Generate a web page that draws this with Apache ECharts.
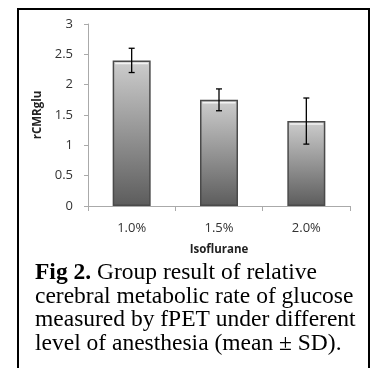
<!DOCTYPE html>
<html>
<head>
<meta charset="utf-8">
<script src="https://cdn.jsdelivr.net/npm/echarts@6/dist/echarts.min.js"></script>
<style>
html,body{margin:0;padding:0;background:#fff;}
#c{width:379px;height:368px;}
</style>
</head>
<body>
<div id="c"></div>
<script>
var categories = ['1.0%', '1.5%', '2.0%'];
var means = [2.4, 1.75, 1.4];
var sds = [0.2, 0.18, 0.38];
var yTicks = [0, 0.5, 1, 1.5, 2, 2.5, 3];
var xName = 'Isoflurane';
var yName = 'rCMRglu';
var captionBold = 'Fig 2.';
var captionLines = [
  ' Group result of relative',
  'cerebral metabolic rate of glucose',
  'measured by fPET under different',
  'level of anesthesia (mean \u00b1 SD).'
];

var chart = echarts.init(document.getElementById('c'), null, {renderer: 'canvas'});
var BAR_W = 38;
var errData = means.map(function (m, i) { return [i, m - sds[i], m + sds[i], m]; });
var capText = '{b|' + captionBold + '}{r|' + captionLines[0] + '}\n' +
  captionLines.slice(1).map(function (l) { return '{r|' + l + '}'; }).join('\n');

chart.setOption({
  animation: false,
  backgroundColor: '#fff',
  grid: {left: 88, right: 29, top: 24, bottom: 162},
  xAxis: {
    type: 'category',
    data: categories,
    name: xName,
    nameLocation: 'middle',
    nameGap: 38,
    nameTextStyle: {fontFamily: 'Open Sans', fontWeight: 'bold', fontSize: 11.5, color: '#222'},
    axisLine: {lineStyle: {color: '#aaa', width: 1}},
    axisTick: {show: true, length: 5, lineStyle: {color: '#aaa'}},
    axisLabel: {margin: 16, fontFamily: 'Open Sans', fontSize: 13, color: '#333'}
  },
  yAxis: {
    type: 'value',
    min: 0, max: 3, interval: 0.5,
    name: yName,
    nameLocation: 'middle',
    nameGap: 36,
    nameTextStyle: {fontFamily: 'Open Sans', fontWeight: 'bold', fontSize: 11.5, color: '#222'},
    axisLine: {show: true, lineStyle: {color: '#aaa', width: 1}},
    axisTick: {show: true, length: 4, lineStyle: {color: '#aaa'}},
    splitLine: {show: false},
    axisLabel: {margin: 15, fontFamily: 'Open Sans', fontSize: 13, color: '#333',
      formatter: function (v) { return yTicks.indexOf(v) >= 0 ? String(v) : ''; }}
  },
  series: [
    {
      type: 'bar',
      data: means,
      barWidth: BAR_W,
      itemStyle: {
        color: new echarts.graphic.LinearGradient(0, 0, 0, 1, [
          {offset: 0, color: '#cdcdcd'},
          {offset: 1, color: '#5c5c5c'}
        ]),
        borderColor: '#4a4a4a',
        borderWidth: 1.5
      }
    },
    {
      type: 'custom',
      data: errData,
      z: 10,
      renderItem: function (params, api) {
        var x = api.value(0);
        var lo = api.coord([x, api.value(1)]);
        var hi = api.coord([x, api.value(2)]);
        var top = api.coord([x, api.value(3)]);
        var hw = 3;
        var st = {stroke: '#000', lineWidth: 1.3};
        var half = BAR_W / 2;
        return {
          type: 'group',
          children: [
            {type: 'line', shape: {x1: top[0] - half + 2.5, y1: top[1] + 3, x2: top[0] + half - 2.5, y2: top[1] + 3},
              style: {stroke: 'rgba(255,255,255,0.75)', lineWidth: 1.5}},
            {type: 'line', shape: {x1: lo[0], y1: lo[1], x2: hi[0], y2: hi[1]}, style: st},
            {type: 'line', shape: {x1: lo[0] - hw, y1: lo[1], x2: lo[0] + hw, y2: lo[1]}, style: st},
            {type: 'line', shape: {x1: hi[0] - hw, y1: hi[1], x2: hi[0] + hw, y2: hi[1]}, style: st}
          ]
        };
      }
    }
  ],
  graphic: [
    {
      type: 'rect',
      shape: {x: 18, y: 9, width: 351, height: 370},
      style: {fill: 'none', stroke: '#000', lineWidth: 2},
      silent: true
    },
    {
      type: 'text',
      left: 35,
      top: 261,
      style: {
        text: capText,
        rich: {
          b: {fontFamily: 'Liberation Serif', fontWeight: 'bold', fontSize: 23.5, lineHeight: 23.5, fill: '#000'},
          r: {fontFamily: 'Liberation Serif', fontSize: 23.5, lineHeight: 23.5, fill: '#000'}
        }
      }
    }
  ]
});
</script>
</body>
</html>
